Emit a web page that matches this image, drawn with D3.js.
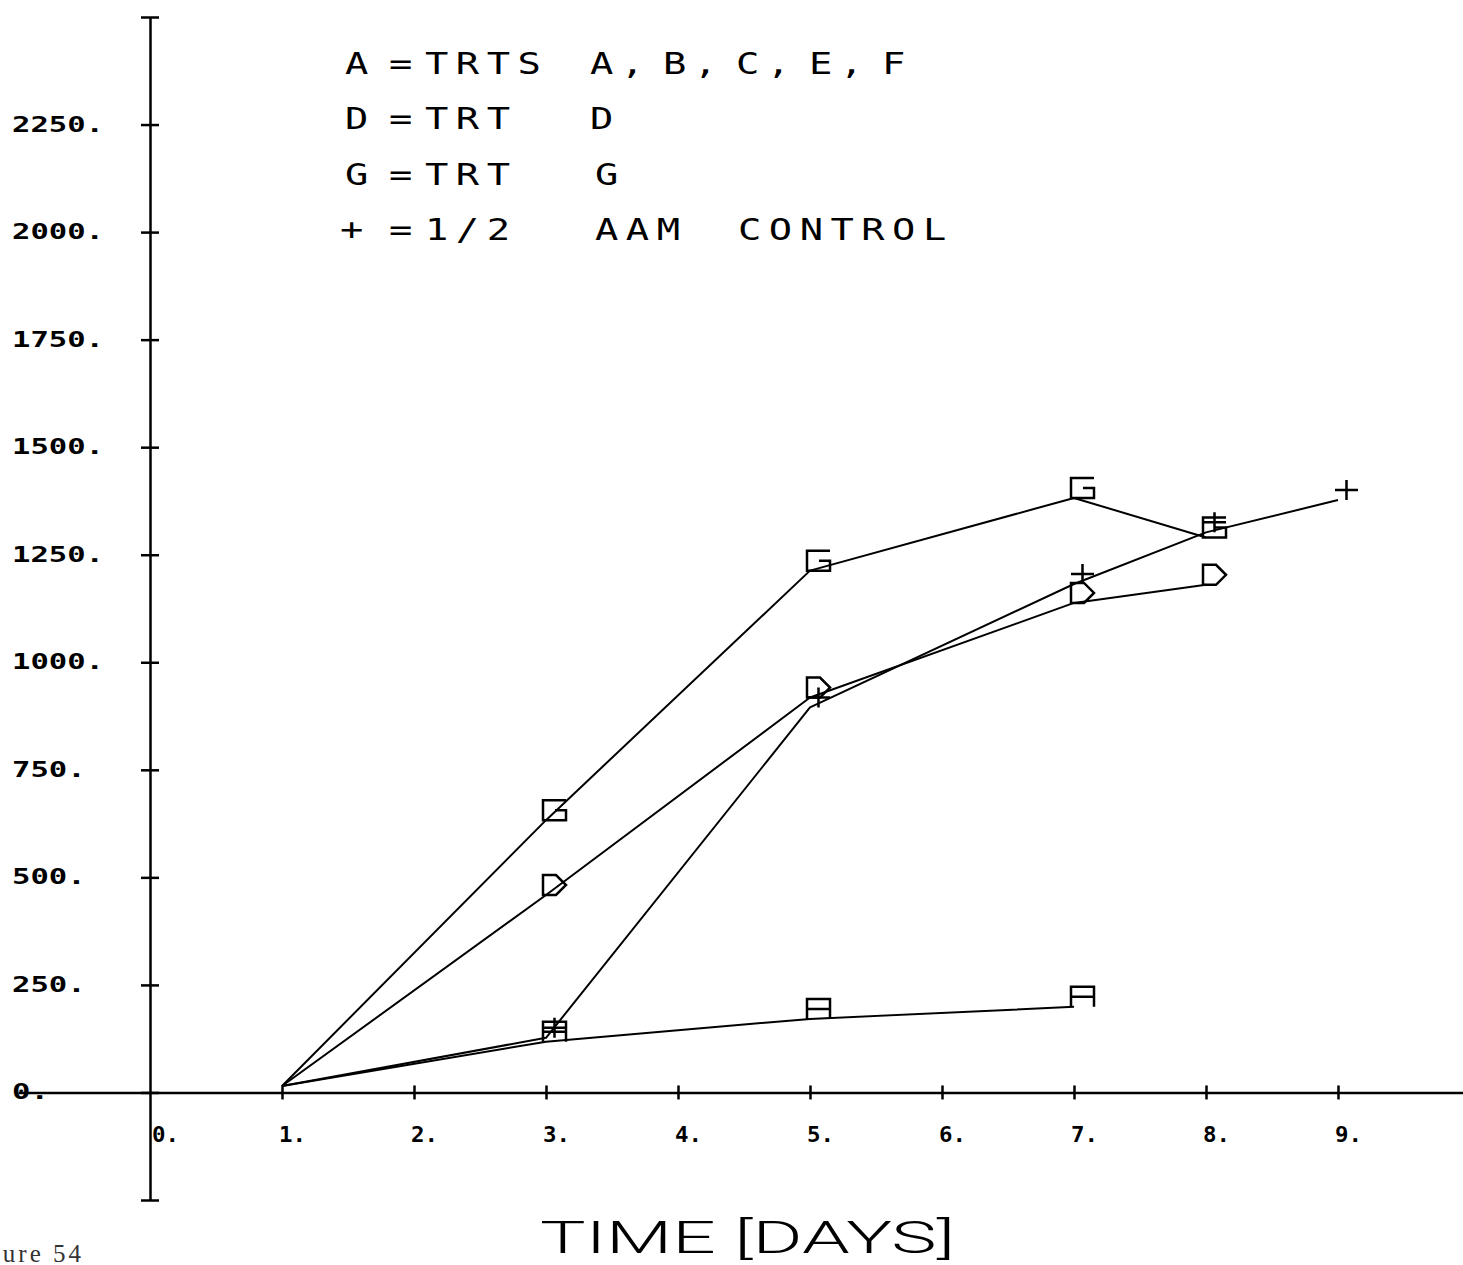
<!DOCTYPE html>
<html><head><meta charset="utf-8">
<script src="https://cdn.jsdelivr.net/npm/d3@7"></script>
<style>html,body{margin:0;padding:0;background:#fff;overflow:hidden}</style>
</head><body>
<svg id="chart" width="1463" height="1265"></svg>
<script>
// ---------- data ----------
const daysA = [1, 3, 5, 7];
const valuesA = [15, 118, 171, 199];
const daysD = [1, 3, 5, 7, 8];
const valuesD = [15, 459, 918, 1138, 1180];
const daysG = [1, 3, 5, 7, 8];
const valuesG = [15, 633, 1213, 1382, 1290];
const daysPlus = [1, 3, 5, 7, 8, 9];
const valuesPlus = [15, 127, 895, 1182, 1302, 1377];

const xTickValues = [0, 1, 2, 3, 4, 5, 6, 7, 8, 9];
const xTickLabels = ["0.", "1.", "2.", "3.", "4.", "5.", "6.", "7.", "8.", "9."];
const yTickValues = [-250, 0, 250, 500, 750, 1000, 1250, 1500, 1750, 2000, 2250, 2500];
const yLabelValues = [0, 250, 500, 750, 1000, 1250, 1500, 1750, 2000, 2250];
const yTickLabels = ["0.", "250.", "500.", "750.", "1000.", "1250.", "1500.", "1750.", "2000.", "2250."];

const legendSymbols = ["A", "D", "G", "+"];
const legendTexts = ["TRTS A, B, C, E, F", "TRT D", "TRT G", "1/2 AAM CONTROL"];
const xTitle = "TIME [DAYS]";
const figureLabel = "Figure 54";

// ---------- drawing ----------
const svg = d3.select("#chart");
svg.append("rect").attr("width", 1463).attr("height", 1265).attr("fill", "#fff");

const x = d3.scaleLinear().domain([-1, 10]).range([18, 1470]);
const y = d3.scaleLinear().domain([-250, 2500]).range([1200, 17]);

const monoFont = "'DejaVu Sans Mono', 'Liberation Mono', monospace";

// Y axis
const yAxisG = svg.append("g")
  .attr("transform", `translate(${x(0)},0)`)
  .call(d3.axisLeft(y).tickValues(yTickValues).tickSizeOuter(0).tickFormat(""));
yAxisG.select(".domain").attr("stroke", "#000").attr("stroke-width", 2.5);
yAxisG.selectAll(".tick line").attr("x1", -9).attr("x2", 9).attr("stroke", "#000").attr("stroke-width", 2.5);

// X axis
const xAxisG = svg.append("g")
  .attr("transform", `translate(0,${y(0)})`)
  .call(d3.axisBottom(x).tickValues(xTickValues.filter(d => d > 0)).tickSizeOuter(0).tickFormat(""));
xAxisG.select(".domain").attr("stroke", "#000").attr("stroke-width", 2.5);
xAxisG.selectAll(".tick line").attr("y1", -7).attr("y2", 7).attr("stroke", "#000").attr("stroke-width", 2.5);

// Y tick labels
svg.append("g").selectAll("text")
  .data(yLabelValues)
  .join("text")
  .attr("x", 12)
  .attr("y", d => y(d) + 7)
  .attr("font-family", monoFont)
  .attr("font-weight", "bold")
  .attr("font-size", 21)
  .attr("textLength", (d, i) => yTickLabels[i].length * 18.4)
  .attr("lengthAdjust", "spacingAndGlyphs")
  .attr("fill", "#000")
  .text((d, i) => yTickLabels[i]);

// X tick labels
svg.append("g").selectAll("text")
  .data(xTickValues)
  .join("text")
  .attr("x", d => x(d) + (d === 0 ? 2 : -3))
  .attr("y", y(0) + 50)
  .attr("font-family", monoFont)
  .attr("font-weight", "bold")
  .attr("font-size", 21)
  .attr("textLength", 27)
  .attr("lengthAdjust", "spacingAndGlyphs")
  .attr("fill", "#000")
  .text((d, i) => xTickLabels[i]);

// Series
const series = [
  { sym: "A", days: daysA, vals: valuesA },
  { sym: "D", days: daysD, vals: valuesD },
  { sym: "G", days: daysG, vals: valuesG },
  { sym: "+", days: daysPlus, vals: valuesPlus }
];
const line = d3.line().x(d => x(d[0])).y(d => y(d[1]));
const glyphs = {
  "A": "M0,0 V-20 H23 V0 M0,-10 H23",
  "D": "M0,0 V-20 H13 L23,-10 L13,0 Z",
  "G": "M23,-20 H0 V0 H23 V-10 H12",
  "+": "M11.5,0 V-20 M0,-10 H23"
};
series.forEach(s => {
  const pts = s.days.map((d, i) => [d, s.vals[i]]);
  svg.append("path")
    .datum(pts)
    .attr("d", line)
    .attr("fill", "none")
    .attr("stroke", "#000")
    .attr("stroke-width", 2)
    .attr("stroke-linejoin", "round");
});
series.forEach(s => {
  const pts = s.days.map((d, i) => [d, s.vals[i]]);
  svg.append("g").selectAll("path")
    .data(pts.slice(1))
    .join("path")
    .attr("transform", d => `translate(${x(d[0]) - 3},${y(d[1])})`)
    .attr("d", glyphs[s.sym])
    .attr("fill", "none")
    .attr("stroke", "#000")
    .attr("stroke-width", 2.5);
});

// Legend (plotter-like lettering: widened monospace, words placed like the plot)
const legendRowY = [74, 129, 185, 240];
const wordStarts = [
  [425, 590, 663, 736, 809, 882],
  [425, 590],
  [425, 595],
  [425, 595, 738]
];
const sx = 1.25;
const legend = svg.append("g");
function legendWord(x0, y0, str) {
  legend.append("g")
    .attr("transform", `translate(${x0},${y0}) scale(${sx},1)`)
    .append("text")
    .attr("x", 0).attr("y", 0)
    .attr("font-family", monoFont).attr("font-size", 31)
    .attr("letter-spacing", 6)
    .attr("fill", "#000")
    .text(str);
}
legendSymbols.forEach((s, i) => {
  legendWord(s === "+" ? 340 : 345, legendRowY[i], s);
  legendWord(389, legendRowY[i], "=");
  legendTexts[i].split(" ").forEach((w, j) => legendWord(wordStarts[i][j], legendRowY[i], w));
});

// Axis title
svg.append("text")
  .attr("x", 540).attr("y", 1253)
  .attr("font-family", "Roboto, 'DejaVu Sans', sans-serif")
  .attr("font-weight", 300)
  .attr("font-size", 44)
  .attr("textLength", 415).attr("lengthAdjust", "spacingAndGlyphs")
  .attr("fill", "#000")
  .text(xTitle);

// Figure caption (partly off page, as in the scan)
svg.append("text")
  .attr("x", 84).attr("y", 1262)
  .attr("text-anchor", "end")
  .attr("font-family", "'Liberation Serif', 'DejaVu Serif', serif")
  .attr("font-size", 25)
  .attr("letter-spacing", 3)
  .attr("fill", "#333")
  .text(figureLabel);
</script>
</body></html>
